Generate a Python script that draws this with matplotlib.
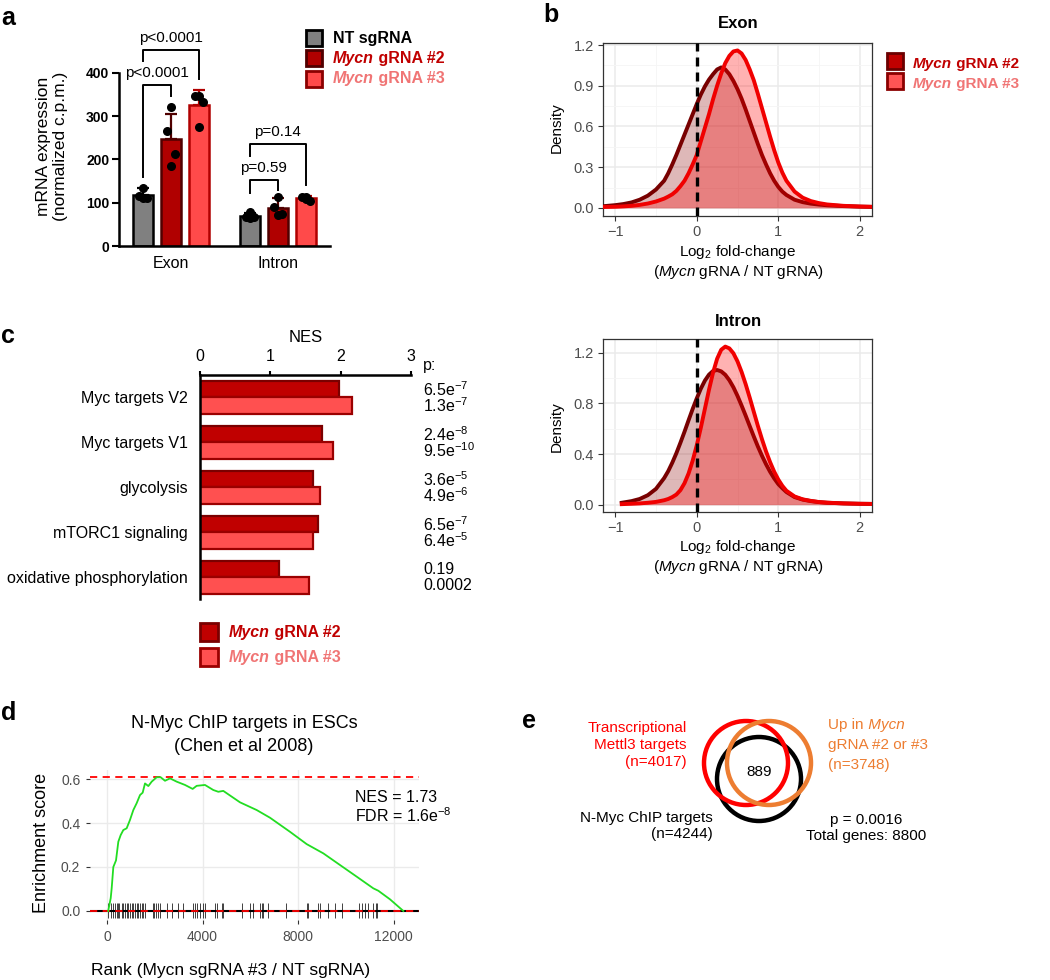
import numpy as np
import matplotlib.pyplot as plt
from matplotlib.patches import Circle, Rectangle

plt.rcParams['font.family'] = ['Liberation Sans', 'DejaVu Sans']
plt.rcParams['mathtext.fontset'] = 'custom'
plt.rcParams['mathtext.rm'] = 'Liberation Sans'
plt.rcParams['mathtext.it'] = 'Liberation Sans:italic'
plt.rcParams['mathtext.bf'] = 'Liberation Sans:bold'

# ---------------- data ----------------
# a: mRNA expression (normalized c.p.m.)
conditions = ['NT sgRNA', 'Mycn gRNA #2', 'Mycn gRNA #3']
regions = ['Exon', 'Intron']
exon_mean = [118, 247, 325]
exon_sd = [16, 59, 35]
exon_pts = [[134, 116, 112, 110], [321, 267, 213, 186], [346, 346, 334, 274]]
intron_mean = [69, 87, 110]
intron_sd = [7, 25, 6]
intron_pts = [[78, 68, 66, 64], [114, 90, 73, 72], [114, 113, 105, 108]]
# (label, region, cond i, cond j, bracket top, left leg end, right leg end)
brackets = [('p<0.0001', 0, 0, 1, 373, 160, 346),
            ('p<0.0001', 0, 0, 2, 454, 427, 385),
            ('p=0.59', 1, 0, 1, 153, 122, 130),
            ('p=0.14', 1, 0, 2, 236, 207, 141)]

# b: density of log2 fold-change
exon_x = [-1.15, -1.0, -0.9, -0.8, -0.7, -0.6, -0.5, -0.4, -0.35,
          -0.3, -0.25, -0.2, -0.15, -0.1, -0.05, 0.0, 0.05, 0.1, 0.15, 0.2,
          0.25, 0.3, 0.35, 0.4, 0.45, 0.5, 0.55, 0.6, 0.65, 0.7, 0.75, 0.8,
          0.85, 0.9, 0.95, 1.0, 1.05, 1.1,
          1.2, 1.3, 1.4, 1.5, 1.6, 1.8, 2.0, 2.15]
exon_g2 = [0.012, 0.02, 0.028, 0.04, 0.06, 0.09, 0.135, 0.2, 0.255,
           0.32, 0.39, 0.465, 0.54, 0.615, 0.69, 0.765, 0.835, 0.895, 0.945, 0.985,
           1.02, 1.035, 1.02, 0.985, 0.935, 0.875, 0.805, 0.725, 0.64, 0.555, 0.47, 0.39,
           0.32, 0.255, 0.2, 0.155, 0.12, 0.095,
           0.06, 0.042, 0.031, 0.024, 0.019, 0.013, 0.009, 0.007]
exon_g3 = [0.006, 0.008, 0.011, 0.015, 0.022, 0.032, 0.047, 0.068, 0.083,
           0.10, 0.125, 0.16, 0.2, 0.255, 0.32, 0.39, 0.49, 0.59, 0.69, 0.8,
           0.9, 0.99, 1.067, 1.12, 1.153, 1.16, 1.138, 1.09, 1.02, 0.94, 0.84, 0.735,
           0.63, 0.525, 0.425, 0.335, 0.26, 0.2,
           0.12, 0.075, 0.05, 0.035, 0.025, 0.015, 0.01, 0.008]
intron_x = [-0.92, -0.8, -0.7, -0.6, -0.5, -0.4, -0.35,
            -0.3, -0.25, -0.2, -0.15, -0.1, -0.05, 0.0, 0.05, 0.1, 0.15, 0.2,
            0.25, 0.3, 0.35, 0.4, 0.45, 0.5, 0.55, 0.6, 0.65, 0.7, 0.75, 0.8,
            0.85, 0.9, 0.95, 1.0, 1.05, 1.1,
            1.2, 1.3, 1.4, 1.5, 1.6, 1.8, 2.0, 2.15]
intron_g2 = [0.015, 0.028, 0.045, 0.075, 0.125, 0.21, 0.265,
             0.332, 0.407, 0.49, 0.577, 0.668, 0.757, 0.84, 0.917, 0.981, 1.028, 1.057,
             1.065, 1.054, 1.027, 0.984, 0.928, 0.86, 0.784, 0.704, 0.621, 0.539, 0.46, 0.387,
             0.32, 0.26, 0.208, 0.163, 0.13, 0.10,
             0.06, 0.04, 0.028, 0.02, 0.015, 0.01, 0.007, 0.006]
intron_g3 = [0.004, 0.007, 0.01, 0.015, 0.022, 0.035, 0.045,
             0.06, 0.08, 0.115, 0.17, 0.247, 0.348, 0.469, 0.608, 0.758, 0.908, 1.044,
             1.154, 1.225, 1.25, 1.236, 1.197, 1.133, 1.05, 0.953, 0.846, 0.734, 0.623, 0.518,
             0.421, 0.336, 0.261, 0.199, 0.149, 0.11,
             0.065, 0.042, 0.03, 0.021, 0.016, 0.01, 0.007, 0.006]

# c: GSEA hallmark NES
gene_sets = ['Myc targets V2', 'Myc targets V1', 'glycolysis',
             'mTORC1 signaling', 'oxidative phosphorylation']
nes_g2 = [1.98, 1.74, 1.61, 1.68, 1.13]
nes_g3 = [2.16, 1.89, 1.70, 1.60, 1.55]
p_g2 = ['6.5e$^{-7}$', '2.4e$^{-8}$', '3.6e$^{-5}$', '6.5e$^{-7}$', '0.19']
p_g3 = ['1.3e$^{-7}$', '9.5e$^{-10}$', '4.9e$^{-6}$', '6.4e$^{-5}$', '0.0002']

# d: running enrichment score
es_rank = [50, 155, 196, 265, 377, 474, 572, 683, 823, 962, 1102, 1241, 1381, 1493,
           1590, 1730, 1870, 2079, 2246, 2427, 2636, 2915, 3264, 3585, 3752, 4100,
           4448, 4657, 4866, 5565, 6262, 6820, 7657, 8355, 9051, 9749, 10448, 11142,
           11352, 11841, 12400]
es_score = [0.0, 0.058, 0.103, 0.20, 0.23, 0.315, 0.345, 0.368, 0.376, 0.414, 0.459,
            0.49, 0.527, 0.538, 0.58, 0.568, 0.588, 0.608, 0.608, 0.592, 0.603, 0.588,
            0.573, 0.555, 0.569, 0.573, 0.55, 0.542, 0.546, 0.494, 0.459, 0.424, 0.36,
            0.304, 0.262, 0.209, 0.156, 0.103, 0.092, 0.053, 0.0]
hits = [56, 153, 237, 335, 405, 474, 516, 614, 684, 753, 823, 893, 962, 1032, 1102,
        1172, 1241, 1311, 1381, 1450, 1520, 1590, 1911, 1981, 2050, 2148, 2218, 2497,
        2706, 2985, 3194, 3612, 3682, 3780, 3891, 4031, 4100, 4519, 4589, 4798, 4868,
        5635, 5983, 6123, 6402, 6471, 6541, 6750, 7490, 8355, 8424, 8842, 8912, 9261,
        9540, 9819, 10558, 10656, 10795, 10935, 11144, 11255, 11311]

# e: venn
venn_sets = ['Transcriptional\nMettl3 targets\n(n=4017)', 'N-Myc ChIP targets\n(n=4244)']
venn_overlap = 889

# ---------------- figure ----------------
W, H = 1050, 980
fig = plt.figure(figsize=(W / 100, H / 100), dpi=100)


def axpx(x0, y0, x1, y1):
    return fig.add_axes([x0 / W, 1 - y1 / H, (x1 - x0) / W, (y1 - y0) / H])


ov = fig.add_axes([0, 0, 1, 1])
ov.set_xlim(0, W)
ov.set_ylim(H, 0)
ov.axis('off')
ov.set_zorder(10)


def rich(x, y, parts, size, color, weight='normal'):
    t = ov.text(x, y, parts[0][0], fontsize=size, color=color, fontweight=weight,
                fontstyle=parts[0][1], ha='left', va='center')
    for s, st in parts[1:]:
        t = ov.annotate(s, xy=(1, 0), xycoords=t, fontsize=size, color=color,
                        fontweight=weight, fontstyle=st, ha='left', va='bottom')


c2_txt = '#C00000'
c3_txt = '#F07575'

# ---- panel a ----
axA = axpx(119, 73, 330, 246)
grp_x = [1.86, 5.68]
offs = [-1.0, 0.0, 1.0]
bar_fc = ['#808080', '#B00000', '#FF4A4A']
bar_ec = ['#000000', '#500000', '#B00000']
jit = np.array([0.0, -0.15, 0.15, 0.0])
for g, (means, sds, pts) in enumerate([(exon_mean, exon_sd, exon_pts),
                                       (intron_mean, intron_sd, intron_pts)]):
    for k in range(3):
        x = grp_x[g] + offs[k]
        axA.bar(x, means[k], 0.72, color=bar_fc[k], edgecolor=bar_ec[k], lw=1.8, zorder=2)
        axA.errorbar(x, means[k], yerr=[[0], [sds[k]]], fmt='none', ecolor=bar_ec[k],
                     elinewidth=1.6, capsize=4.5, capthick=1.6, zorder=3)
        axA.scatter(x + jit, pts[k], s=30, color='black', zorder=4)
for lab, g, i, j, top, le, re in brackets:
    xi = grp_x[g] + offs[i]
    xj = grp_x[g] + offs[j]
    axA.plot([xi, xi, xj, xj], [le, top, top, re], color='black', lw=1.4, clip_on=False)
    axA.text((xi + xj) / 2, top + 28, lab, ha='center', va='center', fontsize=11)
axA.set_xlim(0, 7.54)
axA.set_ylim(0, 400)
axA.set_yticks(range(0, 401, 100))
axA.set_xticks(grp_x)
axA.set_xticklabels(regions, fontsize=11.5)
for lbl in axA.get_yticklabels():
    lbl.set_fontweight('bold')
    lbl.set_fontsize(10)
axA.tick_params(axis='x', length=0, pad=7)
axA.tick_params(axis='y', length=5, width=1.5, pad=2)
for s in ['top', 'right']:
    axA.spines[s].set_visible(False)
for s in ['left', 'bottom']:
    axA.spines[s].set_linewidth(1.8)
ov.text(52, 146, 'mRNA expression\n(normalized c.p.m.)', rotation=90, ha='center',
        va='center', multialignment='center', fontsize=12.5)
# legend a
ov.add_patch(Rectangle((306, 30), 16, 16, fc=bar_fc[0], ec='black', lw=2))
ov.add_patch(Rectangle((306, 50), 16, 16, fc=bar_fc[1], ec='#500000', lw=2))
ov.add_patch(Rectangle((306, 71), 16, 16, fc=bar_fc[2], ec='#8B0000', lw=2))
ov.text(333, 39, 'NT sgRNA', fontsize=11.5, fontweight='bold', va='center')
rich(333, 59, [('Mycn', 'italic'), (' gRNA #2', 'normal')], 11.5, c2_txt, 'bold')
rich(333, 78, [('Mycn', 'italic'), (' gRNA #3', 'normal')], 11.5, c3_txt, 'bold')

# ---- panel b ----
def density_panel(ax, x, d2, d3, yticks, ylim):
    ax.fill_between(x, d2, color='#8B0000', alpha=0.28, lw=0, zorder=2)
    ax.plot(x, d2, color='#780000', lw=2.8, zorder=3)
    ax.fill_between(x, d3, color='#FF0000', alpha=0.3, lw=0, zorder=4)
    ax.plot(x, d3, color='#F00000', lw=2.8, zorder=5)
    ax.axvline(0, color='black', lw=2.4, ls=(0, (2.7, 1.8)), zorder=6)
    ax.set_xlim(-1.15, 2.15)
    ax.set_ylim(*ylim)
    ax.set_xticks([-1, 0, 1, 2])
    ax.set_xticks([-0.5, 0.5, 1.5], minor=True)
    ax.set_yticks(yticks)
    step = yticks[1] - yticks[0]
    ax.set_yticks([t + step / 2 for t in yticks[:-1]], minor=True)
    ax.set_yticklabels(['%.1f' % t for t in yticks])
    ax.grid(which='major', color='#EBEBEB', lw=1.1)
    ax.grid(which='minor', color='#F5F5F5', lw=0.6)
    ax.set_axisbelow(True)
    ax.tick_params(which='major', length=3.5, width=0.8, color='#333333',
                   labelcolor='#4D4D4D', labelsize=10.5, pad=3)
    ax.tick_params(which='minor', length=0)
    for s in ax.spines.values():
        s.set_color('#333333')
        s.set_linewidth(0.9)


axE = axpx(603, 43, 872, 216)
density_panel(axE, exon_x, exon_g2, exon_g3, [0, 0.3, 0.6, 0.9, 1.2], (-0.06, 1.215))
axI = axpx(603, 339, 872, 512)
density_panel(axI, intron_x, intron_g2, intron_g3, [0, 0.4, 0.8, 1.2], (-0.058, 1.31))
for yy, title in [(23, 'Exon'), (321, 'Intron')]:
    ov.text(738, yy, title, fontsize=12, fontweight='bold', ha='center', va='center')
for yy in [128, 427]:
    ov.text(557, yy, 'Density', rotation=90, fontsize=11, ha='center', va='center')
for yy in [252, 547]:
    ov.text(738, yy, 'Log$_2$ fold-change', fontsize=11, ha='center', va='center')
    ov.text(738, yy + 20, r'($\mathit{Mycn}$ gRNA / NT gRNA)', fontsize=11,
            ha='center', va='center')
ov.add_patch(Rectangle((887, 53), 16, 16, fc='#C00000', ec='#6B0000', lw=2))
ov.add_patch(Rectangle((887, 73), 16, 16, fc='#FF5555', ec='#8B0000', lw=2))
rich(913, 64, [('Mycn', 'italic'), (' gRNA #2', 'normal')], 11, c2_txt, 'bold')
rich(913, 84, [('Mycn', 'italic'), (' gRNA #3', 'normal')], 11, c3_txt, 'bold')

# ---- panel c ----
axC = axpx(200, 375, 411, 599)
yc = np.arange(len(gene_sets))
axC.barh(yc - 0.185, nes_g2, height=0.37, color='#C00000', edgecolor='#7A0000', lw=1.6)
axC.barh(yc + 0.185, nes_g3, height=0.37, color='#FF5050', edgecolor='#9A0000', lw=1.6)
for i in range(len(gene_sets)):
    axC.text(3.17, yc[i] - 0.185, p_g2[i], va='center', ha='left', fontsize=11.5)
    axC.text(3.17, yc[i] + 0.185, p_g3[i], va='center', ha='left', fontsize=11.5)
axC.set_xlim(0, 3)
axC.set_ylim(4.478, -0.5)
axC.xaxis.tick_top()
axC.xaxis.set_label_position('top')
axC.set_xticks([0, 1, 2, 3])
axC.set_xlabel('NES', fontsize=12, labelpad=5)
axC.set_yticks(yc)
axC.set_yticklabels(gene_sets)
axC.tick_params(axis='x', length=3, width=1.5, labelsize=11.5, pad=5)
axC.tick_params(axis='y', length=0, labelsize=11.5, pad=9)
axC.spines['bottom'].set_visible(False)
axC.spines['right'].set_visible(False)
axC.spines['top'].set_linewidth(1.8)
axC.spines['left'].set_linewidth(1.8)
ov.text(423, 365, 'p:', fontsize=11.5, va='center', ha='left')
ov.add_patch(Rectangle((200, 623), 18, 18, fc='#C00000', ec='#7A0000', lw=2))
ov.add_patch(Rectangle((200, 648), 18, 18, fc='#FF5050', ec='#9A0000', lw=2))
rich(229, 632, [('Mycn', 'italic'), (' gRNA #2', 'normal')], 11.5, c2_txt, 'bold')
rich(229, 657, [('Mycn', 'italic'), (' gRNA #3', 'normal')], 11.5, c3_txt, 'bold')

# ---- panel d ----
axD = axpx(90, 770, 419, 920)
axD.vlines(hits, -0.03, 0.036, color='black', lw=0.7, alpha=0.75, zorder=2)
axD.axhline(0, color='black', lw=1.5, zorder=3)
axD.axhline(max(es_score), color='#FF0000', lw=1.3, ls=(0, (4, 3)), zorder=3)
axD.axhline(min(es_score), color='#FF0000', lw=1.3, ls=(0, (4, 3)), zorder=3)
axD.plot(es_rank, es_score, color='#22DD22', lw=1.3, zorder=4)
axD.set_xlim(-711, 13054)
axD.set_ylim(-0.041, 0.641)
axD.set_xticks([0, 4000, 8000, 12000])
axD.set_yticks([0, 0.2, 0.4, 0.6])
axD.set_yticklabels(['0.0', '0.2', '0.4', '0.6'])
axD.grid(color='#EBEBEB', lw=1)
axD.set_axisbelow(True)
axD.tick_params(length=3, width=0.8, color='#333333', labelcolor='#4D4D4D',
                labelsize=10, pad=4)
for s in axD.spines.values():
    s.set_visible(False)
ov.text(244, 723, 'N-Myc ChIP targets in ESCs', fontsize=13, ha='center', va='center')
ov.text(244, 746, '(Chen et al 2008)', fontsize=13, ha='center', va='center')
ov.text(355, 797, 'NES = 1.73', fontsize=11.5, ha='left', va='center')
ov.text(355, 816, 'FDR = 1.6e$^{-8}$', fontsize=11.5, ha='left', va='center')
ov.text(42, 843, 'Enrichment score', rotation=90, fontsize=13, ha='center', va='center')
ov.text(231, 970, 'Rank (Mycn sgRNA #3 / NT sgRNA)', fontsize=12.5, ha='center', va='center')

# ---- panel e ----
ov.add_patch(Circle((759, 779), 42, fill=False, ec='black', lw=3.2))
ov.add_patch(Circle((746, 763), 42, fill=False, ec='#FF0000', lw=3.2))
ov.add_patch(Circle((769, 763), 42, fill=False, ec='#ED7D31', lw=3.2))
ov.text(759, 772, str(venn_overlap), fontsize=11, ha='center', va='center')
ov.text(687, 745, venn_sets[0], fontsize=11, color='#FF0000', ha='right', va='center',
        multialignment='right', linespacing=1.25)
rich(828, 725, [('Up in', 'normal'), (' Mycn', 'italic')], 11, '#ED7D31')
ov.text(828, 745, 'gRNA #2 or #3', fontsize=11, color='#ED7D31', ha='left', va='center')
ov.text(828, 765, '(n=3748)', fontsize=11, color='#ED7D31', ha='left', va='center')
ov.text(713, 826, venn_sets[1], fontsize=11, ha='right', va='center',
        multialignment='right', linespacing=1.2)
ov.text(866, 828, 'p = 0.0016\nTotal genes: 8800', fontsize=11, ha='center', va='center',
        multialignment='center', linespacing=1.2)

# ---- panel letters ----
for lx, ly, lt in [(1, 25, 'a'), (543, 22, 'b'), (1, 343, 'c'), (1, 720, 'd'), (522, 728, 'e')]:
    ov.text(lx, ly, lt, fontsize=18, fontweight='bold', ha='left', va='baseline')

fig.savefig('out.png', dpi=100)
